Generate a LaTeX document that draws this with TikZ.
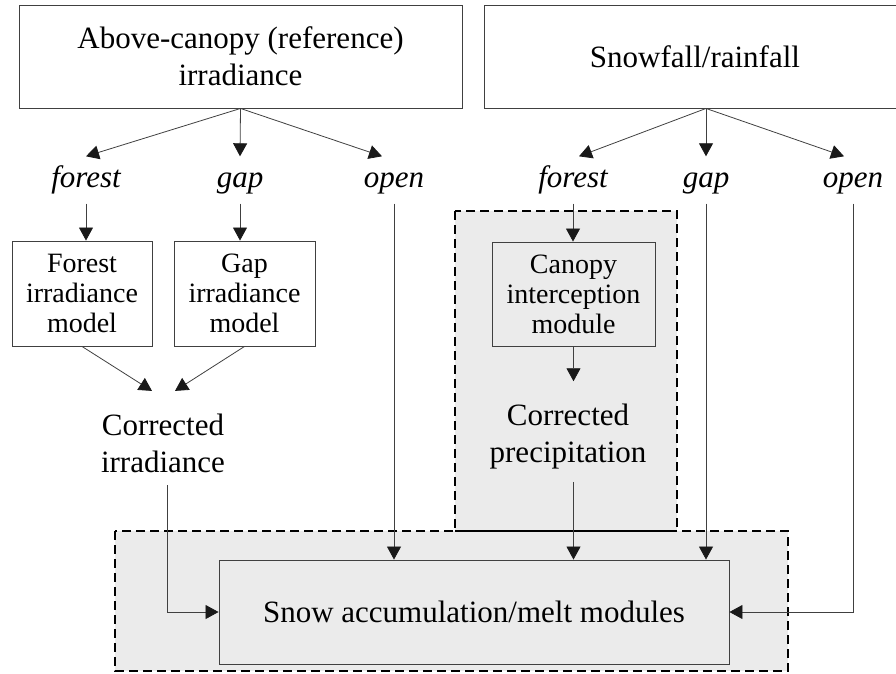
\documentclass[tikz,border=0pt]{standalone}
\usepackage{fontspec}
\setmainfont{Liberation Serif}
\usetikzlibrary{arrows.meta}

\tikzset{
	box/.style={draw=black!75, line width=0.9pt, align=center, inner sep=0pt, font=\fontsize{28}{30}\selectfont},
	txt/.style={align=center, inner ysep=12pt, font=\fontsize{31}{37}\selectfont},
	cover/.style={inner xsep=0pt, inner ysep=9pt, text height=22pt, text depth=7pt, font=\fontsize{31}{37}\selectfont\itshape},
	arr/.style={draw=black!75, line width=0.8pt, -{Triangle[length=13pt,width=14pt,color=black!90]}},
	zone/.style={draw=black, line width=2.6pt, dash pattern=on 9pt off 5pt, fill=black!8}
}

\begin{document}
\begin{tikzpicture}[x=1pt,y=-1pt]
	\useasboundingbox (0,0) rectangle (896,673);
	\clip (0,0) rectangle (896,673);
	% shaded model zones
	\draw[zone] (115,531) rectangle (788,671);
	\draw[zone] (455,211) rectangle (677,531);
	\draw[line width=2.6pt] (455,531) -- (677,531);

	% inputs
	\node[box, minimum width=443pt, minimum height=103pt, font=\fontsize{31}{37}\selectfont] (sun) at (240.5,56.5) {Above-canopy (reference)\\irradiance};
	\node[box, minimum width=422pt, minimum height=103pt, font=\fontsize{31}{37}\selectfont] (precip) at (695,56.5) {Snowfall/rainfall};

	% cover classes
	\node[cover] (forestA) at (86,180) {forest};
	\node[cover] (gapA) at (240,180) {gap};
	\node[cover] (openA) at (394,180) {open};
	\node[cover] (forestB) at (573,180) {forest};
	\node[cover] (gapB) at (706,180) {gap};
	\node[cover] (openB) at (853,180) {open};

	% models
	\node[box, minimum width=140pt, minimum height=105pt] (forestMod) at (82,293.5) {Forest\\irradiance\\model};
	\node[box, minimum width=141pt, minimum height=105pt] (gapMod) at (244.5,293.5) {Gap\\irradiance\\model};
	\node[box, minimum width=163pt, minimum height=104pt] (canopy) at (573.5,294) {Canopy\\interception\\module};
	\node[txt] (corrIrr) at (163,443.5) {Corrected\\irradiance};
	\node[txt] (corrPre) at (568,437) {Corrected\\precipitation};
	\node[box, fill=black!8, minimum width=510pt, minimum height=104pt, font=\fontsize{31}{37}\selectfont] (snow) at (474,612) {Snow accumulation/melt modules};

	% irradiance branch
	\draw[arr] (sun.south) -- (forestA.north);
	\draw[arr] (sun.south) -- (gapA.north);
	\draw[arr] (sun.south) -- ([xshift=-12pt]openA.north);
	\draw[arr] (forestA.south) -- (forestA.south |- forestMod.north);
	\draw[arr] (gapA.south) -- (gapA.south |- gapMod.north);
	\draw[arr] (forestMod.south) -- ([xshift=-11pt,yshift=11pt]corrIrr.north);
	\draw[arr] (gapMod.south) -- ([xshift=12pt,yshift=11pt]corrIrr.north);
	\draw[arr] ([xshift=4pt]corrIrr.south) |- (snow.west);
	\draw[arr] (openA.south) -- (openA.south |- snow.north);

	% precipitation branch
	\draw[arr] ([xshift=11pt]precip.south) -- ([xshift=6pt]forestB.north);
	\draw[arr] ([xshift=11pt]precip.south) -- (gapB.north);
	\draw[arr] ([xshift=11pt]precip.south) -- ([xshift=-9pt]openB.north);
	\draw[arr] (forestB.south) -- (forestB.south |- canopy.north);
	\draw[arr] (canopy.south) -- ([yshift=11pt]canopy.south |- corrPre.north);
	\draw[arr] (canopy.south |- corrPre.south) -- (canopy.south |- snow.north);
	\draw[arr] (gapB.south) -- (gapB.south |- snow.north);
	\draw[arr] (openB.south) |- (snow.east);
\end{tikzpicture}
\end{document}
